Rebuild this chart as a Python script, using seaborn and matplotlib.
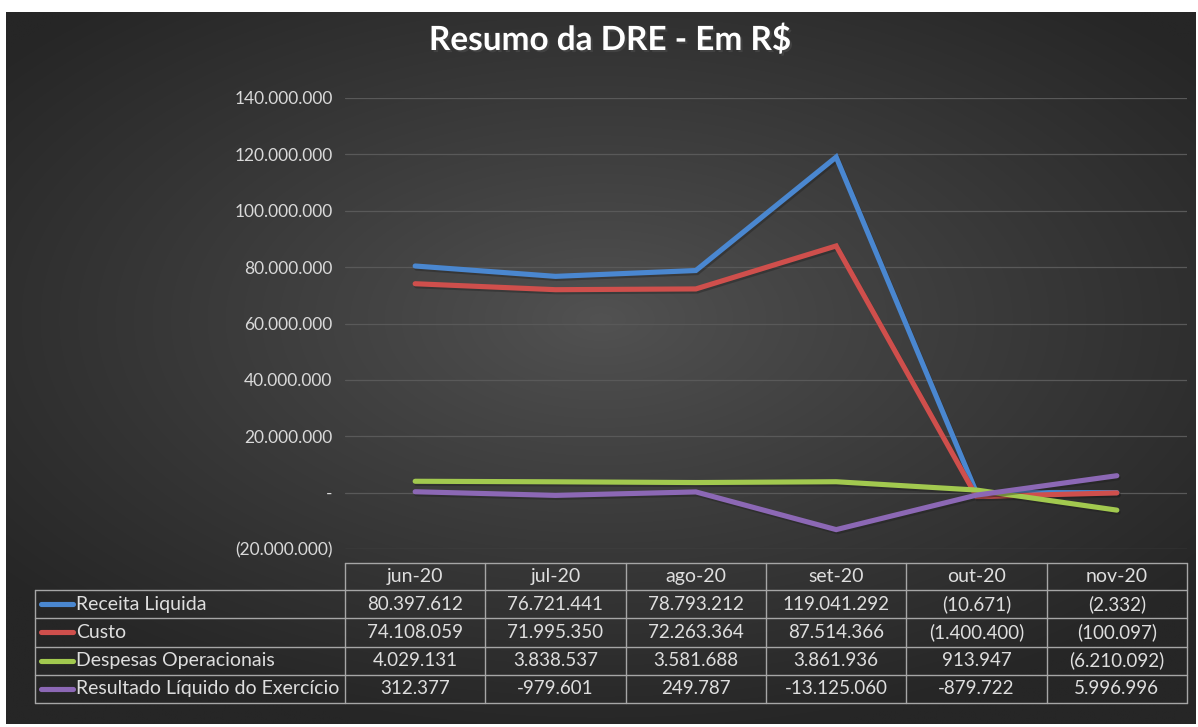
import numpy as np
import pandas as pd
import matplotlib
matplotlib.use("Agg")
import matplotlib.pyplot as plt
import matplotlib.patheffects as pe
from matplotlib.ticker import FuncFormatter
import seaborn as sns

# dados do DRE
meses = ["jun-20", "jul-20", "ago-20", "set-20", "out-20", "nov-20"]
receita = [80397612, 76721441, 78793212, 119041292, -10671, -2332]
custo = [74108059, 71995350, 72263364, 87514366, -1400400, -100097]
despesas = [4029131, 3838537, 3581688, 3861936, 913947, -6210092]
resultado = [312377, -979601, 249787, -13125060, -879722, 5996996]
series = ["Receita Liquida", "Custo", "Despesas Operacionais", "Resultado Líquido do Exercício"]
cores = ["#4a87d0", "#cf4f4c", "#a2c94f", "#8c68b5"]
y_ticks = [-20000000, 0, 20000000, 40000000, 60000000, 80000000, 100000000, 120000000, 140000000]

sns.set_theme(style="dark")
plt.rcParams['font.family'] = ['Lato', 'DejaVu Sans']

W, H = 1198, 727
fig = plt.figure(figsize=(W / 100, H / 100), dpi=100)
fig.patch.set_facecolor("white")

# fundo com gradiente radial (estilo Excel)
bg = fig.add_axes([0, 0, 1, 1], zorder=-10)
bg.set_xlim(0, W)
bg.set_ylim(H, 0)
bg.axis("off")
gx, gy = np.meshgrid(np.linspace(-1, 1, 400), np.linspace(-1, 1, 250))
r = np.clip(np.sqrt(gx ** 2 + (gy * 1.1 + 0.15) ** 2) / 1.3, 0, 1)
shade = (0x52 - (0x52 - 0x26) * r ** 0.9) / 255.0
img = np.dstack([shade, shade, shade])
bg.imshow(img, extent=(6, 1196, 724, 12), aspect="auto", interpolation="bilinear")

# grafico principal
x0, x1, ytop, ybot = 345, 1187, 98, 549
ax = fig.add_axes([x0 / W, 1 - ybot / H, (x1 - x0) / W, (ybot - ytop) / H])
ax.set_facecolor("none")

df = pd.DataFrame({
    "pos": list(range(len(meses))) * 4,
    "valor": receita + custo + despesas + resultado,
    "serie": [s for s in series for _ in meses],
})
sns.lineplot(data=df, x="pos", y="valor", hue="serie", hue_order=series,
             palette=cores, linewidth=3.7, legend=False, ax=ax,
             solid_capstyle="round", solid_joinstyle="miter",
             path_effects=[pe.SimpleLineShadow(offset=(1, -1.5), alpha=0.35), pe.Normal()])

ax.set_xlim(-0.5, len(meses) - 0.5)
ax.set_ylim(y_ticks[0], y_ticks[-1])
ax.set_yticks(y_ticks)
ax.set_xticks([])
ax.set_xlabel("")
ax.set_ylabel("")
ax.grid(axis="y", color="#595959", linewidth=0.9)
ax.grid(axis="x", visible=False)
for s in ax.spines.values():
    s.set_visible(False)


def fmt_eixo(v, _):
    if v == 0:
        return "-"
    s = f"{abs(v):,.0f}".replace(",", ".")
    return f"({s})" if v < 0 else s


ax.yaxis.set_major_formatter(FuncFormatter(fmt_eixo))
ax.tick_params(axis="y", length=0, pad=9, labelsize=12.5, labelcolor="#d9d9d9")

fig.text(610 / W, 1 - 40 / H, "Resumo da DRE - Em R$", ha="center", va="center",
         fontsize=24, fontweight="bold", color="white",
         path_effects=[pe.withSimplePatchShadow(offset=(1.5, -1.5), alpha=0.6)])

# tabela de dados
tab = fig.add_axes([0, 0, 1, 1], zorder=5)
tab.set_xlim(0, W)
tab.set_ylim(H, 0)
tab.axis("off")
tab.set_facecolor("none")

borda = "#a6a6a6"
txt = "#dedede"
cw = (x1 - x0) / len(meses)
lx = 35
hy0, hy1 = 563, 590
rh = (703 - hy1) / len(series)

# cabecalho
tab.plot([x0, x1], [hy0, hy0], color=borda, lw=1)
for i in range(len(meses) + 1):
    tab.plot([x0 + i * cw] * 2, [hy0, 703], color=borda, lw=1)
for i, m in enumerate(meses):
    tab.text(x0 + (i + 0.5) * cw, (hy0 + hy1) / 2, m, ha="center", va="center",
             fontsize=14, color=txt)

# linhas
valores = [receita, custo, despesas, resultado]
tab.plot([lx, lx], [hy1, 703], color=borda, lw=1)
for j in range(len(series) + 1):
    tab.plot([lx, x1], [hy1 + j * rh] * 2, color=borda, lw=1)


def fmt_tab(v, parenteses):
    s = f"{abs(v):,.0f}".replace(",", ".")
    if v < 0:
        return f"({s})" if parenteses else f"-{s}"
    return s


for j, (nome, cor, vals) in enumerate(zip(series, cores, valores)):
    yc = hy1 + (j + 0.5) * rh
    tab.plot([41, 73], [yc, yc], color=cor, lw=3.7, solid_capstyle="round")
    tab.text(76, yc, nome, ha="left", va="center", fontsize=14, color=txt)
    for i, v in enumerate(vals):
        tab.text(x0 + (i + 0.5) * cw, yc, fmt_tab(v, j < 3), ha="center", va="center",
                 fontsize=13.5, color=txt)

fig.savefig("out.png", dpi=100, facecolor=fig.get_facecolor())
